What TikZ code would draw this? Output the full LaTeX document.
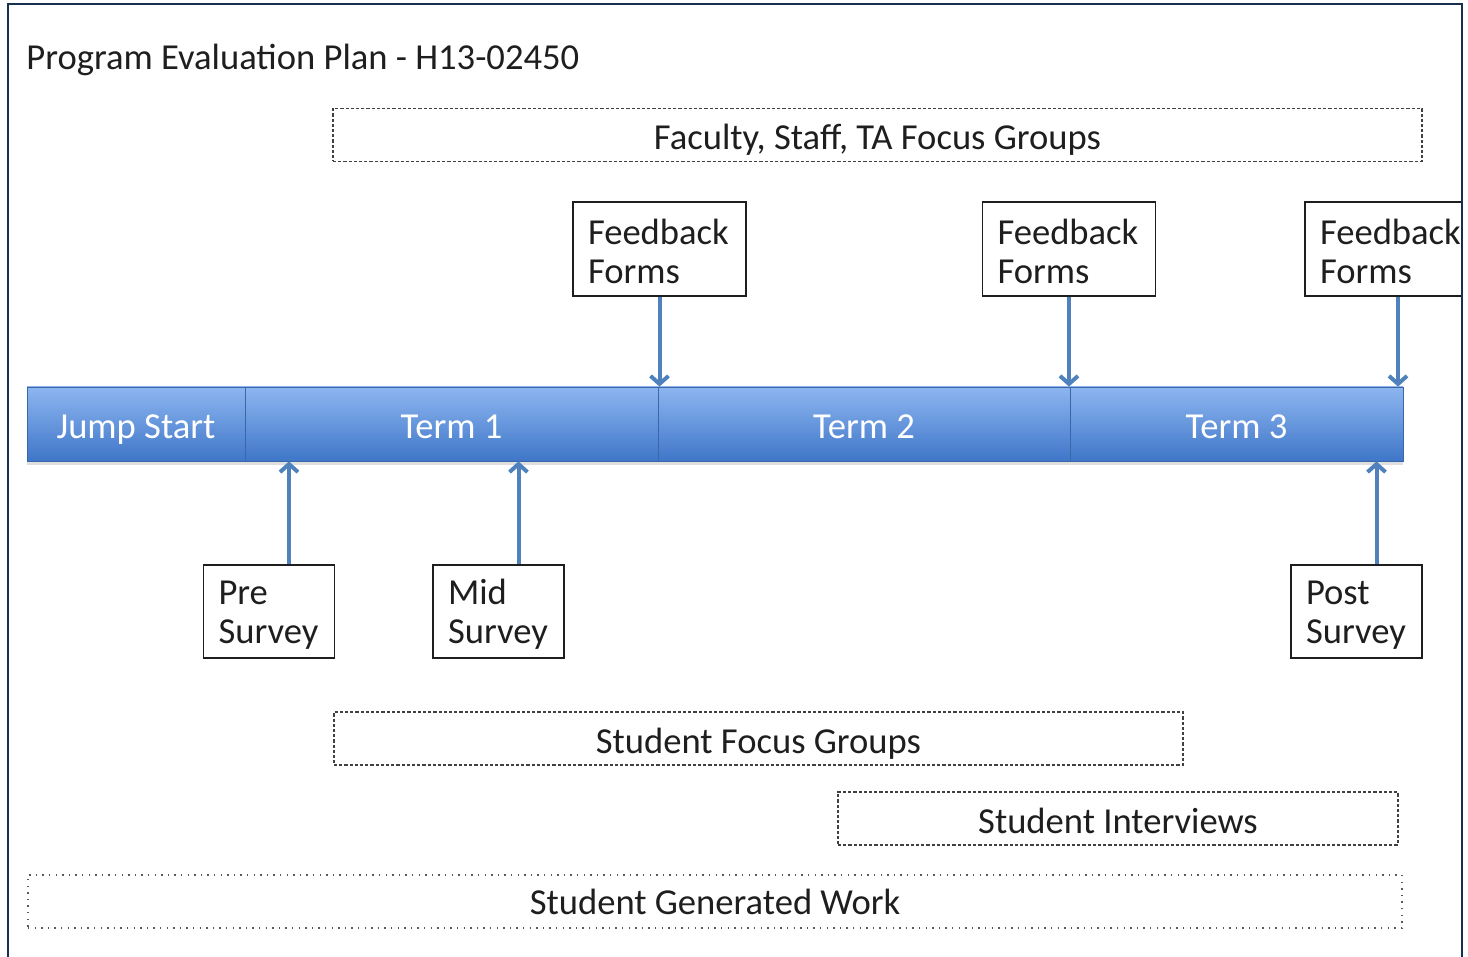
\documentclass[tikz,border=0pt]{standalone}
\usepackage{fontspec}
\setmainfont{Carlito}
\usepackage{tikz}
\usetikzlibrary{arrows.meta,shadows}
\definecolor{frame}{HTML}{17304F}
\definecolor{bar_top}{HTML}{8DB6F0}
\definecolor{bar_bot}{HTML}{3F76C8}
\definecolor{bar_line}{HTML}{3A67A8}
\definecolor{link}{HTML}{4F81BD}
\definecolor{ink}{HTML}{1E1E1E}

\begin{document}
\begin{tikzpicture}[x={(.5pt,0)}, y={(0,-.5pt)}, font=\fontsize{18.3}{19.5}\selectfont, text=ink]
    \tikzstyle{group} = [draw=ink!85, line width=.65pt, dash pattern=on 1.6pt off 1pt, minimum height=26.5pt, inner sep=0pt, text height=14.5pt, text depth=0pt];
    \tikzstyle{work} = [draw=black!65, line width=.6pt, dash pattern=on .7pt off 2.6pt, minimum height=26.5pt, inner sep=0pt, text height=13pt, text depth=0pt];
    \tikzstyle{form} = [draw=ink, line width=.6pt, align=left, minimum height=47pt, inner xsep=7.5pt, inner ysep=0pt, execute at begin node=\rule{0pt}{15pt}];
    \tikzstyle{term} = [draw=bar_line, top color=bar_top, bottom color=bar_bot, text=white, minimum height=37pt, inner sep=0pt,
        text height=14pt, text depth=0pt, drop shadow={shadow xshift=0pt, shadow yshift=-2pt, opacity=.25}];
    \tikzstyle{link} = [draw=link, line width=2pt, -{Straight Barb[length=4pt,width=9pt]}];
    \useasboundingbox (0,0) rectangle (1468,957);
    \begin{scope}
    \clip (8,4) rectangle (1462,957);
    \node[anchor=base west, inner sep=0pt] (title) at (26,70) {Program Evaluation Plan - H13-02450};
    \node[group, minimum width=544.5pt] (staff) at (877.5,135) {Faculty, Staff, TA Focus Groups};
    % timeline
    \foreach \n/\l/\x/\w in {jump/Jump Start/136/109, t1/Term 1/451.5/206.5, t2/Term 2/864/206, t3/Term 3/1236.5/166.5}
    {\node[term, minimum width=\w pt] (\n) at (\x,424) {\l};}
    % feedback forms above
    \foreach \n/\x in {fb1/659.5, fb2/1069, fb3/1391.5}
    {\node[form, text width=71.5pt] (\n) at (\x,249) {Feedback\\Forms};}
    % surveys below
    \foreach \n/\l/\x in {pre/Pre/269, mid/Mid/498.5, post/Post/1356.5}
    {\node[form, text width=50.5pt, minimum height=46.5pt] (\n) at (\x,611.5) {\l\\Survey};}
    \foreach \f/\t in {fb1/t1, fb2/t2}
    {\draw[link] (\f.south) -- (\f.south |- \t.north);}
    \draw[link] ([xshift=3.25pt]fb3.south) -- ([xshift=3.25pt]fb3.south |- t3.north);
    \foreach \s/\t in {pre/t1, mid/t1, post/t3}
    {\draw[link] ([xshift=10pt]\s.north) -- ([xshift=10pt]\s.north |- \t.south);}
    \node[group, minimum width=424.5pt] (sfg) at (758.5,738.5) {Student Focus Groups};
    \node[group, minimum width=280pt] (si) at (1118,818.5) {Student Interviews};
    \node[work, minimum width=687pt] (sgw) at (715,901.5) {Student Generated Work};
    \end{scope}
    \draw[frame, line width=1pt] (8,970) -- (8,4) -- (1462,4) -- (1462,970);
\end{tikzpicture}
\end{document}
